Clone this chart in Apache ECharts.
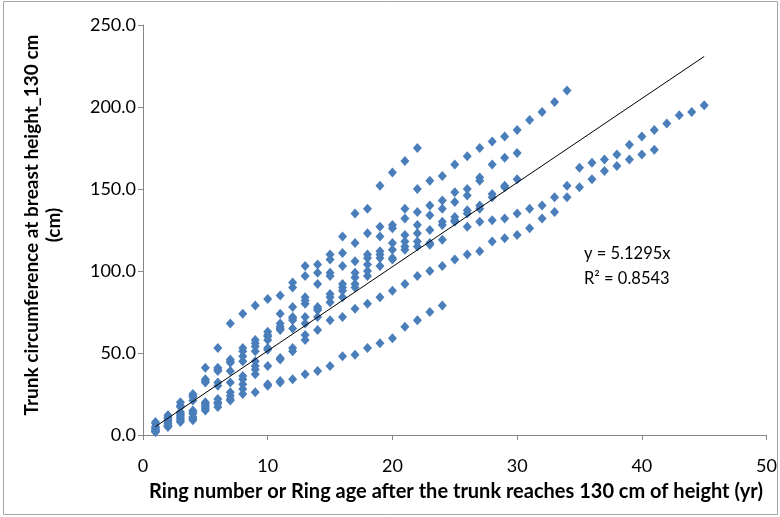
<!DOCTYPE html>
<html><head><meta charset="utf-8">
<script src="https://cdn.jsdelivr.net/npm/echarts@6/dist/echarts.min.js"></script>
<style>html,body{margin:0;padding:0;background:#fff}#c{width:780px;height:517px}</style>
</head><body><div id="c"></div><script>
// Trunk circumference (cm) per tree, indexed by ring age starting at 1
const tree1 = [8,12,20,25,41,53,68,74,79,83,85,93,103,104,110,121,135,138,152,160,167,175];
const tree2 = [7,11,18,24,34,41,46,53,58,63,74,90,97,99,107,111,117,123,127,128,138,150,155,158,165,170,175,179,182,186,192,197,203,210];
const tree3 = [5,10,17,23,33,40,45,51,56,61,68,78,84,92,99,103,106,110,121,126,132,136,140,143,148,150,157,165,169,172];
const tree4 = [5,9,14,21,32,39,44,48,54,60,66,72,82,78,97,92,99,108,112,117,122,128,134,138,142,146,155,147,152,156];
const tree5 = [4,8,13,15,20,32,39,45,51,58,65,71,80,77,86,90,96,104,110,113,118,123,125,130,133,137,140,145,151];
const tree6 = [3,7,12,14,19,30,32,36,45,53,64,70,72,76,84,88,92,100,108,108,115,118,117,128,131,135,138];
const tree7 = [3,6,11,13,18,22,26,34,42,52,47,65,68,72,81,84,90,97,103,107,113,115,116,119,130,127,130,131,132,135,138,140,145,152,163,166,168,171,177,182,186,190,195,197,201];
const tree8 = [2,6,10,11,17,20,24,31,40,42,46,53,61];
const tree9 = [2,5,9,10,16,19,22,28,37,31,33,51,58,64,70,72,77,80,84,88,92,97,100,103,107,110,112,118,120,122,126,132,136,145,151,156,161,164,168,171,174];
const tree10 = [2,5,8,9,15,17,21,25,26,30,32,34,37,39,42,48,49,53,56,59,66,70,75,79];

// Linear trend through origin (as fitted in the source chart)
const trendSlope = 5.1295;
const trendR2 = 0.8543;
const trendRange = [1, 45];

const xTicks = [0, 10, 20, 30, 40, 50];
const yTicks = [0, 50, 100, 150, 200, 250];

const trees = [tree1,tree2,tree3,tree4,tree5,tree6,tree7,tree8,tree9,tree10];
const points = [];
trees.forEach(t => t.forEach((v, i) => points.push([i + 1, v])));

const FONT = 'Lato, "Open Sans", sans-serif';
const chart = echarts.init(document.getElementById('c'), null, {renderer: 'canvas'});
chart.setOption({
  animation: false,
  backgroundColor: '#fff',
  grid: {left: 143, right: 11, top: 25, bottom: 82},
  xAxis: {
    type: 'value', min: xTicks[0], max: xTicks[xTicks.length - 1], interval: 10,
    axisLine: {show: true, onZero: false, lineStyle: {color: '#868686', width: 1}},
    axisTick: {show: true, length: 5, lineStyle: {color: '#868686'}},
    splitLine: {show: false},
    axisLabel: {color: '#000', fontSize: 18, fontFamily: FONT, margin: 22}
  },
  yAxis: {
    type: 'value', min: yTicks[0], max: yTicks[yTicks.length - 1], interval: 50,
    axisLine: {show: true, lineStyle: {color: '#868686', width: 1}},
    axisTick: {show: true, length: 5, lineStyle: {color: '#868686'}},
    splitLine: {show: false},
    axisLabel: {color: '#000', fontSize: 18, fontFamily: FONT, margin: 7,
      formatter: v => v.toFixed(1)}
  },
  series: [
    {
      type: 'scatter', data: points, symbol: 'diamond', symbolSize: [9, 10],
      itemStyle: {color: '#4A7EBB', opacity: 1}
    },
    {
      type: 'line', data: trendRange.map(a => [a, trendSlope * a]),
      symbol: 'none', lineStyle: {color: '#000', width: 1}, z: 3
    }
  ],
  graphic: [
    {type: 'rect', shape: {x: 3.5, y: 1.5, width: 774, height: 513}, style: {fill: 'none', stroke: '#A6A6A6', lineWidth: 1}, z: -1},
    {type: 'text', x: 42.5, y: 225, rotation: Math.PI / 2, style: {
      text: 'Trunk circumference at breast height_130 cm\n(cm)', fontFamily: FONT, fontWeight: 'bold', fontSize: 19,
      fill: '#000', align: 'center', verticalAlign: 'middle', lineHeight: 22}},
    {type: 'text', x: 456, y: 492, style: {
      text: 'Ring number or Ring age after the trunk reaches 130 cm of height (yr)', fontFamily: FONT, fontWeight: 'bold', fontSize: 20,
      fill: '#000', align: 'center', verticalAlign: 'middle'}},
    {type: 'text', x: 584, y: 254, style: {
      text: 'y = ' + trendSlope + 'x', fontFamily: FONT, fontSize: 16.5, fill: '#000', align: 'left', verticalAlign: 'middle'}},
    {type: 'text', x: 584, y: 279, style: {
      text: 'R\u00B2 = ' + trendR2, fontFamily: FONT, fontSize: 16.5, fill: '#000', align: 'left', verticalAlign: 'middle'}}
  ]
});
</script></body></html>
